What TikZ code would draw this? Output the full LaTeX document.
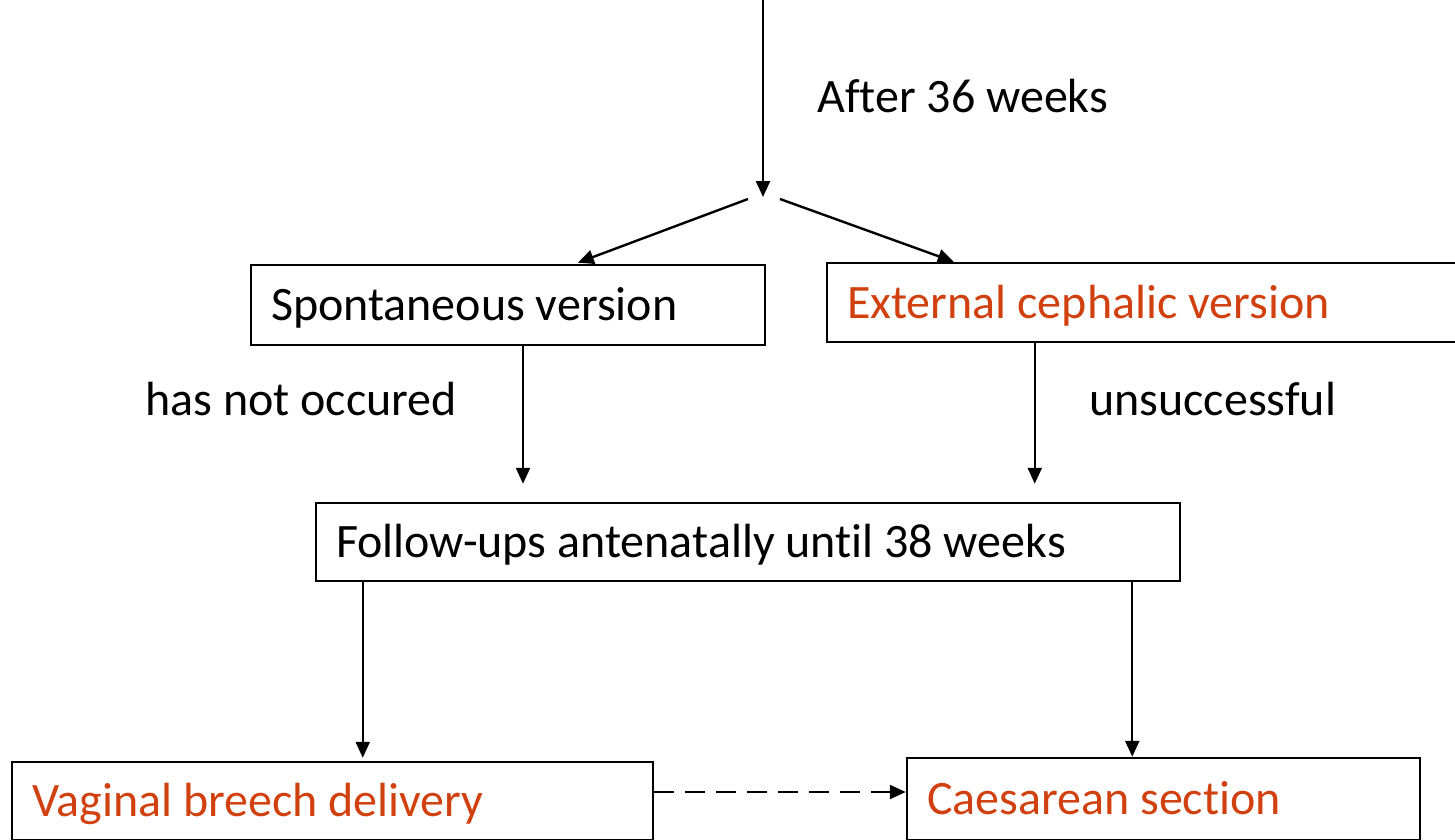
\documentclass[tikz,border=0pt]{standalone}
\usepackage{fontspec}
\setmainfont{Carlito}[Ligatures=NoCommon]
\usepackage{tikz}
\usetikzlibrary{arrows.meta,positioning,calc}
\definecolor{tijolo}{HTML}{D0410F}
\definecolor{traco}{HTML}{000000}
\tikzset{
  caixa/.style={rectangle, draw=traco, line width=2.5pt, font=\fontsize{48}{58}\selectfont,
    align=flush left, inner xsep=20pt, text height=31pt, text depth=0pt},
  seta/.style={-{Triangle[length=16pt,width=14pt]}, draw=traco, line width=2.4pt},
  tracejada/.style={seta, dash pattern=on 20pt off 11pt},
  rotulo/.style={font=\fontsize{48}{58}\selectfont, anchor=west, inner sep=0pt,
    text height=31pt, text depth=0pt},
}

\begin{document}
\begin{tikzpicture}[x=1pt, y=-1pt]
    \useasboundingbox (0,0) rectangle (1455,839);
    \clip (0,0) rectangle (1455,839);
    \coordinate (topo) at (763,0);
    \coordinate (garfo) at (763,197);
    \node[rotulo] (semanas) at (817,97) {After 36 weeks};
    \node[caixa, minimum width=514pt, minimum height=80pt, text width=474pt] (espont) at (508,305) {Spontaneous version};
    \node[caixa, minimum width=673pt, minimum height=79pt, text width=633pt, text=tijolo] (externa) at (1163.5,302.5) {External cephalic version};
    \node[rotulo] (naoocorreu) at (145,400) {has not occured};
    \node[rotulo] (insucesso) at (1089,400) {unsuccessful};
    \node[caixa, minimum width=864pt, minimum height=78pt, text width=824pt] (seguimento) at (748,542) {Follow-ups antenatally until 38 weeks};
    \node[caixa, minimum width=641pt, minimum height=78pt, text width=601pt, text=tijolo] (vaginal) at (332.5,801) {Vaginal breech delivery};
    \node[caixa, minimum width=513pt, minimum height=82pt, text width=473pt, text=tijolo] (cesariana) at (1163.5,799) {Caesarean section};
    \draw[seta] (topo) -- (garfo);
    \draw[seta, shorten >=3pt] ($(garfo)+(-15,2)$) -- ([xshift=67pt]espont.north);
    \draw[seta] ($(garfo)+(17,2)$) -- ([xshift=128pt]externa.north west);
    \draw[seta, shorten >=18pt] ([xshift=15pt]espont.south) -- ([xshift=15pt]espont.south |- seguimento.north);
    \draw[seta, shorten >=18pt] ([xshift=209pt]externa.south west) -- ([xshift=209pt]externa.south west |- seguimento.north);
    \draw[seta, shorten >=3pt] ([xshift=48pt]seguimento.south west) -- ([xshift=48pt]seguimento.south west |- vaginal.north);
    \draw[seta] ([xshift=-49pt]seguimento.south east) -- ([xshift=-49pt]seguimento.south east |- cesariana.north);
    \draw[tracejada] ([yshift=9pt]vaginal.east) -- ([yshift=9pt]vaginal.east -| cesariana.west);
  \end{tikzpicture}
\end{document}
